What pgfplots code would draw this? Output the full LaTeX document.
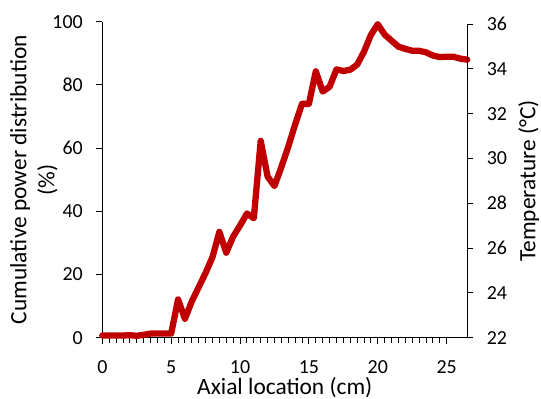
\documentclass[border=0pt]{standalone}
\usepackage{pgfplots}
\pgfplotsset{compat=1.18}
\usepackage{fontspec}
\setmainfont{Carlito}
\definecolor{dred}{RGB}{192,0,0}
\begin{document}
\begin{tikzpicture}
\pgfplotsset{
  common/.style={
    scale only axis, width=365bp,
    xmin=0, xmax=26.5,
    tick align=outside,
    major tick length=6bp, minor tick length=5bp,
    tick style={black, line width=0.9bp},
    axis line style={black, line width=0.9bp, -},
    tick label style={font=\fontsize{20}{24}\selectfont},
    label style={font=\fontsize{23.5}{28}\selectfont},
    /pgf/number format/assume math mode=true,
  }
}
\begin{axis}[common, height=316bp,
  ymin=0, ymax=100,
  axis y line*=left, axis x line*=bottom,
  xtick={0,5,...,25}, minor x tick num=9,
  ytick={0,20,...,100},
  xticklabel style={yshift=-13bp},
  yticklabel style={xshift=-10bp},
  xlabel={Axial location (cm)},
  xlabel style={yshift=3bp},
  ylabel={Cumulative power distribution\\(\%)},
  ylabel style={align=center, yshift=-12bp},
  clip=false,
]
\addplot[dred, line width=6.3bp, line join=round, line cap=round] coordinates {
(0,0.7)(0.5,0.7)(1,0.7)(1.5,0.7)(2,0.8)(2.5,0.6)(3,0.9)(3.5,1.3)(4,1.3)(4.5,1.3)(5,1.3)
(5.5,12.1)(6,6.0)(6.5,11.5)(7,16)(7.5,20.5)(8,25.5)(8.5,33.5)(9,26.9)(9.5,32)(10,35.5)
(10.5,39.3)(11,37.8)(11.5,62.3)(12,51)(12.5,48)(13,54)(13.5,60.4)(14,67.5)(14.5,74)
(15,74)(15.5,84.3)(16,77.9)(16.5,79.4)(17,84.9)(17.5,84.4)(18,84.8)(18.5,86.4)(19,90.5)
(19.5,95.8)(20,99.2)(20.5,95.9)(21,94)(21.5,92.1)(22,91.4)(22.5,90.8)(23,90.8)(23.5,90.3)
(24,89.3)(24.5,88.8)(25,88.9)(25.5,88.9)(26,88.3)(26.5,88)
};
\end{axis}
\begin{axis}[common, height=313.7bp,
  ymin=22, ymax=36,
  axis y line*=right, axis x line=none,
  ytick={22,24,...,36},
  yticklabel style={xshift=10bp},
  ylabel={Temperature (°C)},
  ylabel style={yshift=-4.5bp},
]
\end{axis}
\pgfresetboundingbox
\path[use as bounding box] (-102.3bp,-61.3bp) rectangle (438.7bp,337.7bp);
\end{tikzpicture}
\end{document}
